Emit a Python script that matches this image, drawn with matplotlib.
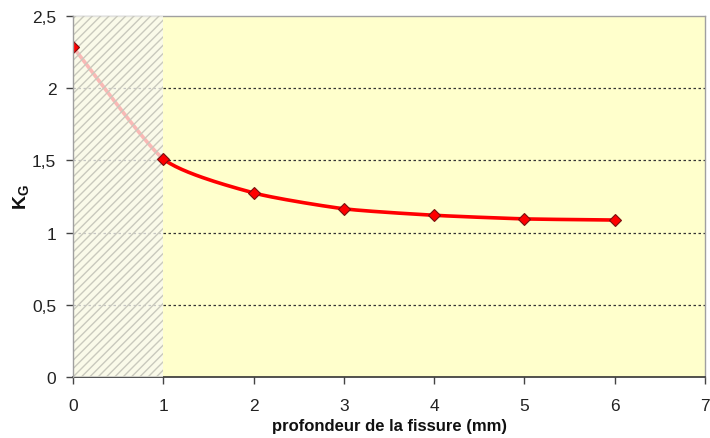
import numpy as np
import matplotlib
matplotlib.use("Agg")
import matplotlib.pyplot as plt
from matplotlib.patches import Rectangle

plt.rcParams['font.family'] = ['Liberation Sans', 'DejaVu Sans']
plt.rcParams['mathtext.fontset'] = 'custom'
plt.rcParams['mathtext.rm'] = 'Liberation Sans:bold'
plt.rcParams['mathtext.it'] = 'Liberation Sans:bold'
plt.rcParams['mathtext.bf'] = 'Liberation Sans:bold'
plt.rcParams['hatch.linewidth'] = 1.0

depth = [0, 1, 2, 3, 4, 5, 6]
kg = [2.285, 1.51, 1.275, 1.165, 1.12, 1.095, 1.087]
xticks = [0, 1, 2, 3, 4, 5, 6, 7]
yticks = [0, 0.5, 1, 1.5, 2, 2.5]
ytick_labels = ['0', '0,5', '1', '1,5', '2', '2,5']


def catmull_rom(x, y, n=30):
    x = np.asarray(x, float); y = np.asarray(y, float)
    px = np.concatenate([[2 * x[0] - x[1]], x, [2 * x[-1] - x[-2]]])
    py = np.concatenate([[2 * y[0] - y[1]], y, [2 * y[-1] - y[-2]]])
    xs, ys = [], []
    t = np.linspace(0, 1, n)
    for i in range(1, len(px) - 2):
        p0, p1, p2, p3 = [np.array([px[j], py[j]]) for j in range(i - 1, i + 3)]
        m1 = (p2 - p0) / 2 * 0.6
        m2 = (p3 - p1) / 2 * 0.6
        h00 = 2 * t**3 - 3 * t**2 + 1
        h10 = t**3 - 2 * t**2 + t
        h01 = -2 * t**3 + 3 * t**2
        h11 = t**3 - t**2
        pts = (np.outer(h00, p1) + np.outer(h10, m1) + np.outer(h01, p2) + np.outer(h11, m2))
        xs.extend(pts[:, 0]); ys.extend(pts[:, 1])
    return np.array(xs), np.array(ys)


fig = plt.figure(figsize=(7.10, 4.39), dpi=100)
ax = fig.add_axes([73 / 710, 61 / 439, 632 / 710, 361 / 439])
ax.set_facecolor('#FFFFCC')

ax.set_xlim(0, 7)
ax.set_ylim(0, 2.5)

for yv in [0.5, 1, 1.5, 2]:
    ax.axhline(yv, color='#333333', linestyle=(0, (2, 2)), linewidth=0.9, zorder=1)

sx, sy = catmull_rom(depth, kg)
ax.plot(sx, sy, color='#FF0000', linewidth=2.6, zorder=3, solid_capstyle='round')

rect = Rectangle((0, 0), 1, 2.5, facecolor=(0.975, 0.975, 0.955, 0.75),
                 edgecolor=(0.79, 0.79, 0.74, 1.0), hatch='////', linewidth=0, zorder=5)
ax.add_patch(rect)

ax.plot(depth, kg, linestyle='none', marker='D', markersize=6,
        markerfacecolor='#FF0000', markeredgecolor='#7A1010', markeredgewidth=0.8, zorder=6)

ax.set_xticks(xticks)
ax.set_xticklabels([str(v) for v in xticks])
ax.set_yticks(yticks)
ax.set_yticklabels(ytick_labels)
ax.tick_params(axis='both', labelsize=12.5, direction='out', length=5, width=1,
               color='#444444', labelcolor='#222222')
ax.tick_params(axis='x', pad=10)
ax.tick_params(axis='y', pad=7)

for side in ['top', 'right', 'left']:
    ax.spines[side].set_color('#A0A0A0')
    ax.spines[side].set_linewidth(1.0)
ax.spines['bottom'].set_color('#333333')
ax.spines['bottom'].set_linewidth(1.2)
ax.spines['left'].set_zorder(7)

ax.set_xlabel('profondeur de la fissure (mm)', fontsize=12, fontweight='bold',
              color='#111111', labelpad=4)
ax.set_ylabel(r'K$_{\mathrm{G}}$', fontsize=14, fontweight='bold', color='#111111',
              va='center', ha='center')
ax.yaxis.set_label_coords((21 - 73) / 632, 0.5)

fig.savefig('out.png', dpi=100)
